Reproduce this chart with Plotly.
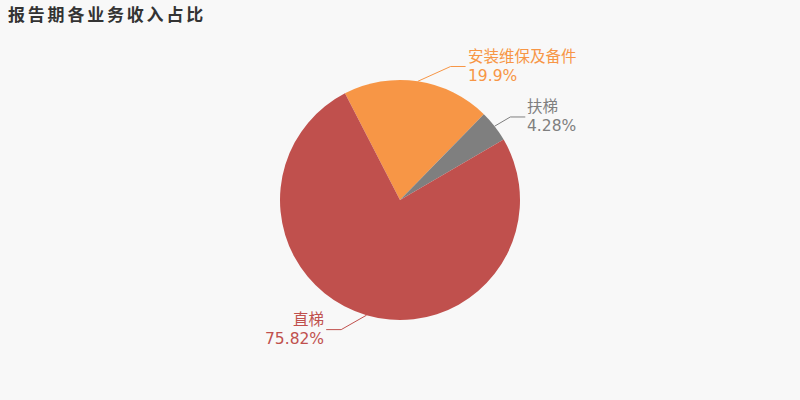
import math
import plotly.graph_objects as go

# ---- data ----
labels = ["安装维保及备件", "扶梯", "直梯"]
values = [19.9, 4.28, 75.82]
colors = ["#f79646", "#7f7f7f", "#c0504d"]
title_text = "报告期各业务收入占比"

# ---- layout parameters ----
W, H = 800, 400
CX, CY, R = 400, 200, 120
ROT = -27.3          # start angle of first slice, clockwise from 12 o'clock
LEN1, LEN2 = 15, 15  # leader line segment lengths
RB = R + 24          # ellipse for label x alignment
LINE_GAP = 19        # distance between the two label lines
BG = "#f8f8f8"
FONT = "DejaVu Sans, Noto Sans CJK SC, sans-serif"

fig = go.Figure()
fig.add_trace(go.Pie(
    labels=labels, values=values, sort=False, direction="clockwise",
    rotation=ROT, marker=dict(colors=colors, line=dict(width=0)),
    textinfo="none", hoverinfo="label+percent", showlegend=False,
    domain=dict(x=[(CX - R) / W, (CX + R) / W], y=[(H - CY - R) / H, (H - CY + R) / H]),
))

total = sum(values)
cum = 0.0
annotations = []
for lab, v, c in zip(labels, values, colors):
    theta = math.radians(ROT + 360.0 * (cum + v / 2) / total)
    cum += v
    sx, sy = CX + R * math.sin(theta), CY - R * math.cos(theta)
    rA = R + LEN1
    by = CY - rA * math.cos(theta)
    dy = abs(by - CY)
    d = 1 if math.sin(theta) >= 0 else -1
    bx = CX + d * math.sqrt(max(0.0, 1 - dy * dy / (RB * RB))) * rA
    ex = bx + d * LEN2
    fig.add_trace(go.Scatter(x=[sx, bx, ex], y=[sy, by, by], mode="lines",
                             line=dict(color=c, width=1), hoverinfo="skip",
                             showlegend=False, xaxis="x", yaxis="y"))
    for txt, yy in ((lab, by - LINE_GAP / 2), (f"{v:g}%", by + LINE_GAP / 2)):
        annotations.append(dict(
            x=ex + d * 1, y=yy, xref="x", yref="y", showarrow=False,
            xanchor="left" if d > 0 else "right", yanchor="middle",
            align="left" if d > 0 else "right", borderpad=0,
            text=txt, font=dict(family=FONT, size=15.5, color=c),
        ))

annotations.append(dict(
    x=6, y=13, xref="x", yref="y", showarrow=False, xanchor="left", yanchor="middle",
    text=f"<b><span style='letter-spacing:2.8px'>{title_text}</span></b>",
    font=dict(family="Noto Sans CJK SC, sans-serif", size=17, color="#333333"),
))

fig.update_layout(
    width=W, height=H, margin=dict(l=0, r=0, t=0, b=0),
    paper_bgcolor=BG, plot_bgcolor="rgba(0,0,0,0)",
    xaxis=dict(range=[0, W], visible=False, fixedrange=True),
    yaxis=dict(range=[H, 0], visible=False, fixedrange=True),
    annotations=annotations,
)

fig.write_html(
    "out.html",
    config={"displayModeBar": False},
    post_script="document.body.style.margin='0';document.body.style.background='%s';" % BG,
)
